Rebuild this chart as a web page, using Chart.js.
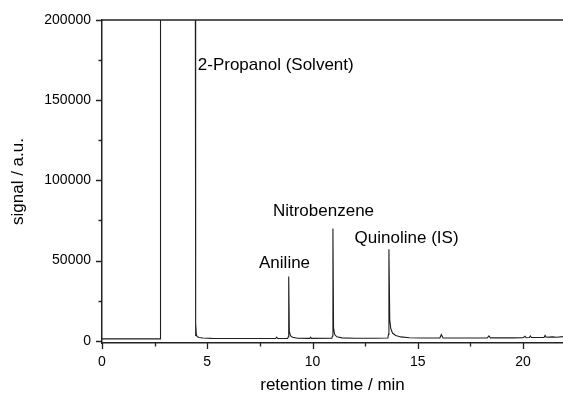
<!DOCTYPE html>
<html>
<head>
<meta charset="utf-8">
<script src="https://cdn.jsdelivr.net/npm/chart.js@4/dist/chart.umd.min.js"></script>
<style>
  body { margin: 0; background: #fff; }
  canvas { display: block; }
</style>
</head>
<body>
<canvas id="gcChart" width="563" height="396"></canvas>
<script>
'use strict';

// GC trace: retention time (min) and detector signal (a.u.)
let timeMin = [
  0, 1.0, 2.0, 2.77,
  2.78, 4.43,
  4.44, 4.46, 4.48, 4.52, 4.6, 4.8, 5.2, 6.0, 7.0, 8.0,
  8.25, 8.3, 8.35, 8.82, 8.85, 8.87, 8.9, 8.95, 9.05, 9.3,
  9.87, 9.91, 9.95, 10.92, 10.95, 10.97, 11.0, 11.05, 11.15, 11.4,
  12.0, 13.0, 13.58, 13.61, 13.63, 13.67, 13.72, 13.8, 13.95, 14.2, 14.6, 15.2,
  16.05, 16.12, 16.2, 17.0, 18.3, 18.38, 18.45, 19.5,
  20.0, 20.1, 20.15, 20.3, 20.35, 20.4, 21.0, 21.05, 21.1, 21.4, 21.6, 21.9
];
let signal = [
  1200, 1200, 1200, 1200,
  260000, 260000,
  3000, 11000, 4000, 2600, 2000, 1700, 1500, 1400, 1400, 1400,
  1400, 2300, 1400, 1400, 2500, 40000, 6000, 3200, 2200, 1600,
  1500, 2200, 1500, 1600, 3000, 70000, 8000, 4000, 2500, 1800,
  1600, 1600, 1700, 4000, 57000, 13000, 7500, 4800, 3300, 2400, 1900, 1700,
  1700, 3800, 1700, 1700, 1700, 3000, 1800, 1800,
  1900, 2800, 1900, 2000, 3000, 2000, 2000, 3300, 2200, 2400, 2200, 2600
];

let xTicks = [0, 5, 10, 15, 20];
let xMinorTicks = [2.5, 7.5, 12.5, 17.5];
let yTicks = [0, 50000, 100000, 150000, 200000];
let yMinorTicks = [25000, 75000, 125000, 175000];

let peakNames = ['2-Propanol (Solvent)', 'Aniline', 'Nitrobenzene', 'Quinoline (IS)'];
// where each name is written, in axis units (left edge, vertical middle)
let peakLabelAt = [[4.55, 172000], [7.46, 48300], [8.12, 80400], [12.0, 63800]];

const FONT = '"Liberation Sans", Arial, sans-serif';
const INK = '#222';

let points = [];
for (let i = 0; i < timeMin.length; i++) {
  points.push({ x: timeMin[i], y: signal[i] });
}

// hand-drawn tick marks (major + minor), top frame line and peak names
const chromatogramDecor = {
  id: 'chromatogramDecor',
  afterDraw(chart) {
    const { ctx, chartArea: area, scales: { x, y } } = chart;
    ctx.save();
    ctx.strokeStyle = INK;
    ctx.lineWidth = 1.3;
    ctx.beginPath();
    xTicks.forEach(v => {
      const px = Math.round(x.getPixelForValue(v)) + 0.5;
      ctx.moveTo(px, area.bottom);
      ctx.lineTo(px, area.bottom + 6);
    });
    xMinorTicks.forEach(v => {
      const px = Math.round(x.getPixelForValue(v)) + 0.5;
      ctx.moveTo(px, area.bottom);
      ctx.lineTo(px, area.bottom + 3.5);
    });
    yTicks.forEach(v => {
      const py = Math.round(y.getPixelForValue(v)) + 0.5;
      ctx.moveTo(area.left, py);
      ctx.lineTo(area.left - 6, py);
    });
    yMinorTicks.forEach(v => {
      const py = Math.round(y.getPixelForValue(v)) + 0.5;
      ctx.moveTo(area.left, py);
      ctx.lineTo(area.left - 3.5, py);
    });
    ctx.stroke();

    ctx.lineWidth = 1.5;
    ctx.beginPath();
    ctx.moveTo(area.left, area.top);
    ctx.lineTo(area.right, area.top);
    ctx.stroke();

    ctx.font = '17px ' + FONT;
    ctx.fillStyle = '#000';
    ctx.textAlign = 'left';
    ctx.textBaseline = 'middle';
    for (let i = 0; i < peakNames.length; i++) {
      ctx.fillText(peakNames[i],
        x.getPixelForValue(peakLabelAt[i][0]),
        y.getPixelForValue(peakLabelAt[i][1]));
    }
    ctx.restore();
  }
};

const config = {
  type: 'line',
  data: {
    datasets: [{
      data: points,
      borderColor: '#1e1e1e',
      borderWidth: 1.1,
      pointRadius: 0,
      tension: 0,
      fill: false
    }]
  },
  options: {
    responsive: false,
    animation: false,
    layout: { padding: { top: 20, right: 0, left: 0, bottom: 0 } },
    plugins: { legend: { display: false }, tooltip: { enabled: false } },
    scales: {
      x: {
        type: 'linear',
        min: 0,
        max: 21.9,
        grid: { display: false, drawTicks: false, tickLength: 0 },
        border: { display: true, color: INK, width: 1.5 },
        afterBuildTicks: scale => { scale.ticks = xTicks.map(v => ({ value: v })); },
        afterFit: scale => { scale.height = 53; },
        ticks: {
          color: '#000',
          padding: 11,
          maxRotation: 0,
          font: { family: FONT, size: 14 },
          callback: v => String(v)
        },
        title: {
          display: true,
          text: 'retention time / min',
          color: '#000',
          padding: { top: 0, bottom: 0 },
          font: { family: FONT, size: 17 }
        }
      },
      y: {
        type: 'linear',
        min: -1400,
        max: 200000,
        grid: { display: false, drawTicks: false, tickLength: 0 },
        border: { display: true, color: INK, width: 1.5 },
        afterBuildTicks: scale => { scale.ticks = yTicks.map(v => ({ value: v })); },
        afterFit: scale => { scale.width = 102; },
        ticks: {
          color: '#000',
          padding: 11,
          font: { family: FONT, size: 14 },
          callback: v => String(v)
        },
        title: {
          display: true,
          text: 'signal / a.u.',
          color: '#000',
          padding: { top: 8, bottom: 0 },
          font: { family: FONT, size: 17 }
        }
      }
    }
  },
  plugins: [chromatogramDecor]
};

const gcChart = new Chart(document.getElementById('gcChart'), config);
</script>
</body>
</html>
